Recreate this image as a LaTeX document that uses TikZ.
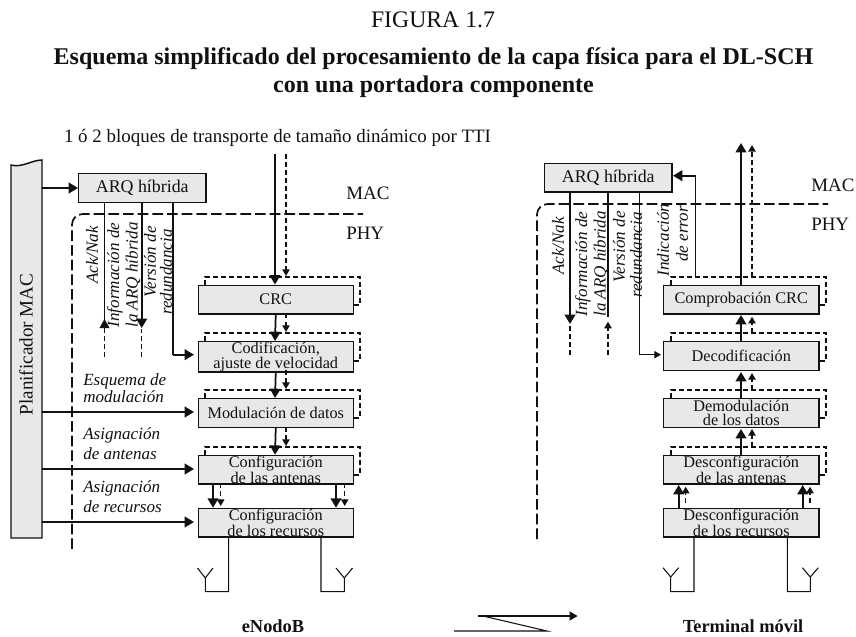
\documentclass[tikz,border=0pt]{standalone}
\usepackage{fontspec}
\setmainfont{Liberation Serif}
\usetikzlibrary{arrows.meta}
\definecolor{boxgray}{HTML}{E8E8E8}
\definecolor{ink}{HTML}{111111}
\tikzset{
  x=0.75pt,y=-0.75pt,
  every node/.style={inner sep=0pt,text=ink},
  blockbox/.style={draw=ink,fill=boxgray,line width=1.1pt,minimum width=116.3pt,minimum height=21.4pt,anchor=north west,align=center,font=\fontsize{12.2pt}{10pt}\selectfont},
  arqbox/.style={blockbox,minimum width=95.3pt,font=\fontsize{13.4pt}{14pt}\selectfont},
  backdash/.style={draw=ink,line width=1.1pt,dash pattern=on 4pt off 2pt},
  boundary/.style={draw=ink,line width=1.3pt,dash pattern=on 8pt off 3pt,rounded corners=8pt},
  thickline/.style={draw=ink,line width=1.3pt},
  thinline/.style={draw=ink,line width=0.8pt},
  dashline/.style={draw=ink,line width=1.1pt,dash pattern=on 3.5pt off 2.5pt},
  bigtip/.style={-{Triangle[length=7pt,width=8pt]}},
  smalltip/.style={-{Triangle[length=5pt,width=5.5pt]}},
  rotlabel/.style={rotate=90,font=\fontsize{12.8pt}{13pt}\itshape},
  sidelabel/.style={anchor=west,font=\fontsize{12.8pt}{13pt}\itshape},
  layerlabel/.style={anchor=west,font=\fontsize{14.2pt}{15pt}\selectfont},
  caplabel/.style={font=\fontsize{13.8pt}{15pt}\bfseries},
}
\begin{document}
\begin{tikzpicture}
\useasboundingbox (0,0) rectangle (856,636);
% titles
\node[font=\fontsize{17.8pt}{20pt}\selectfont] (fig) at (433,20) {FIGURA 1.7};
\node[font=\fontsize{18pt}{20pt}\bfseries] (t1) at (433.5,59) {Esquema simplificado del procesamiento de la capa física para el DL-SCH};
\node[font=\fontsize{18pt}{20pt}\bfseries] (t2) at (433.5,87) {con una portadora componente};
\node[font=\fontsize{14.2pt}{15pt}\selectfont] (top) at (277.5,138) {1 ó 2 bloques de transporte de tamaño dinámico por TTI};
% planner
\path[draw=ink,fill=boxgray,line width=1.1pt] (11,538) -- (11,165) .. controls (22,168) and (32,160) .. (42,160) -- (42,538) -- cycle;
\node[rotate=90,font=\fontsize{14.3pt}{15pt}\selectfont] (plan) at (26,344.5) {Planificador MAC};
% boundaries
\coordinate (lb1) at (72,549); \coordinate (lb2) at (72,214); \coordinate (lb3) at (363,214);
\draw[boundary] (lb1) -- (lb2) -- (lb3);
\coordinate (rb1) at (537,539); \coordinate (rb2) at (537,204); \coordinate (rb3) at (828,204);
\draw[boundary] (rb1) -- (rb2) -- (rb3);
\node[layerlabel] (mac1) at (346,193) {MAC};
\node[layerlabel] (phy1) at (346,233) {PHY};
\node[layerlabel] (mac2) at (811,185) {MAC};
\node[layerlabel] (phy2) at (811,224) {PHY};
% back dashes
\foreach \n/\yt/\yr in {1/277/305,2/333/361,3/390/418,4/447/475}{
  \draw[backdash] (205,\yt+8) -- (205,\yt) -- (360,\yt) -- (360,\yr) -- (352,\yr);
  \draw[backdash] (671,\yt+8) -- (671,\yt) -- (826,\yt) -- (826,\yr) -- (818,\yr);
}
% blocks left
\node[blockbox] (crc) at (197.5,284.5) {CRC};
\node[blockbox] (cod) at (197.5,341) {Codificación,\\ajuste de velocidad};
\node[blockbox] (mod) at (197.5,398) {Modulación de datos};
\node[blockbox] (ant) at (197.5,454.7) {Configuración\\de las antenas};
\node[blockbox] (rec) at (197.5,507.7) {Configuración\\de los recursos};
\node[arqbox] (arq) at (78,173) {ARQ híbrida};
% blocks right
\node[blockbox] (ccrc) at (663,284.5) {Comprobación CRC};
\node[blockbox] (dec) at (663,341) {Decodificación};
\node[blockbox] (dem) at (663,398) {Demodulación\\de los datos};
\node[blockbox] (dan) at (663,454.7) {Desconfiguración\\de las antenas};
\node[blockbox] (dre) at (663,507.7) {Desconfiguración\\de los recursos};
\node[arqbox] (arq2) at (544,162.7) {ARQ híbrida};
% top inputs left
\coordinate (in1) at (275,154); \coordinate (in2) at (286,154);
\draw[thickline,bigtip] (in1) -- (crc.north -| in1);
\draw[dashline,smalltip] (in2) -- (286,276);
% between blocks left
\draw[thickline,bigtip] (crc.south) -- (275,341);
\draw[dashline,smalltip] (286,313.5) -- (286,332);
\draw[thickline,bigtip] (cod.south) -- (275,398);
\draw[dashline,smalltip] (286,370) -- (286,389);
\draw[thickline,bigtip] (mod.south) -- (275,454.7);
\draw[dashline,smalltip] (286,427) -- (286,446);
\draw[thickline,bigtip] (213,483.4) -- (213,507.7);
\draw[dashline,smalltip] (220.7,483.4) -- (220.7,506);
\draw[thickline,bigtip] (336,483.4) -- (336,507.7);
\draw[dashline,smalltip] (344.7,483.4) -- (344.7,506);
% planner arrows
\draw[thickline,bigtip] (42,188) -- (arq.west |- 0,188);
\draw[thickline,bigtip] (42,412) -- (194,412);
\draw[thickline,bigtip] (42,469) -- (194,469);
\draw[thickline,bigtip] (42,522) -- (194,522);
% ARQ left
\coordinate (a1) at (104.5,357); \coordinate (a2) at (141.7,357);
\draw[thinline] (104.5,202) -- (104.5,322);
\draw[draw=none,fill=ink] (104.5,319) -- (99.5,328) -- (109.5,328) -- cycle;
\draw[dashline] (a1) -- (104.5,328);
\draw[thickline,bigtip] (141.7,202) -- (141.7,328);
\draw[dashline] (a2) -- (141.7,329);
\draw[thinline] (173,202) -- (173,354.7) -- (183,354.7);
\draw[thickline,bigtip] (173,354.7) -- (194,354.7);
% rotated labels left
\node[rotlabel] (l1) at (92,255) {Ack/Nak};
\node[rotlabel] (l2) at (115,275) {Información de};
\node[rotlabel] (l3) at (133,275) {la ARQ híbrida};
\node[rotlabel] (l4) at (150,262) {Versión de};
\node[rotlabel] (l5) at (166,272) {redundancia};
\node[sidelabel] (s1) at (83,381) {Esquema de};
\node[sidelabel] (s2) at (83,397) {modulación};
\node[sidelabel] (s3) at (83,435) {Asignación};
\node[sidelabel] (s4) at (83,454) {de antenas};
\node[sidelabel] (s5) at (83,488) {Asignación};
\node[sidelabel] (s6) at (83,507) {de recursos};
% antennas left
\draw[thinline] (228.7,536) -- (228.7,591.7) -- (205.3,591.7) -- (205.3,578) -- (197.5,568) (205.3,578) -- (213,568);
\draw[thinline] (321,536) -- (321,591.7) -- (344.3,591.7) -- (344.3,578) -- (336,568) (344.3,578) -- (352.5,568);
% right
\draw[thickline,bigtip] (570,191.3) -- (570,324);
\coordinate (b1) at (570,355); \coordinate (b2) at (608,355);
\draw[dashline] (b1) -- (570,325);
\draw[thinline] (608,191.3) -- (608,316.7);
\draw[dashline,smalltip] (b2) -- (608,321.7);
\draw[thinline] (639.3,191.3) -- (639.3,354.7) -- (652,354.7);
\draw[thinline,smalltip] (639.3,354.7) -- (661,354.7);
\draw[thinline] (695.3,277) -- (695.3,175.7) -- (680,175.7);
\draw[thickline,bigtip] (695.3,175.7) -- (673,175.7);
% top outputs right
\coordinate (o1) at (741,143); \coordinate (o2) at (752,145);
\draw[thickline,bigtip] (ccrc.north -| o1) -- (o1);
\draw[dashline,smalltip] (752,277) -- (o2);
\draw[thickline,bigtip] (741,341) -- (741,315);
\draw[dashline,smalltip] (752,333) -- (752,316.7);
\draw[thickline,bigtip] (741,398) -- (741,372);
\draw[dashline,smalltip] (752,390) -- (752,373);
\draw[thickline,bigtip] (741,454.7) -- (741,429);
\draw[dashline,smalltip] (752,447) -- (752,429);
\draw[thickline,bigtip] (678.7,507.7) -- (678.7,485);
\draw[dashline,smalltip] (685.7,503) -- (685.7,486.7);
\draw[thickline,bigtip] (802.7,507.7) -- (802.7,485);
\draw[dashline,smalltip] (810,503) -- (810,486.7);
% rotated labels right
\node[rotlabel] (r1) at (558,246) {Ack/Nak};
\node[rotlabel] (r2) at (583,264) {Información de};
\node[rotlabel] (r3) at (601,264) {la ARQ híbrida};
\node[rotlabel] (r4) at (619,247) {Versión de};
\node[rotlabel] (r5) at (636,255) {redundancia};
\node[rotlabel] (r6) at (663,240) {Indicación};
\node[rotlabel] (r7) at (682,234) {de error};
% antennas right
\draw[thinline] (694,536) -- (694,591.7) -- (670.7,591.7) -- (670.7,577) -- (663,567.7) (670.7,577) -- (678.7,567.7);
\draw[thinline] (787.3,536) -- (787.3,591.7) -- (810.3,591.7) -- (810.3,577) -- (802.3,567.7) (810.3,577) -- (818.3,567.7);
% captions
\node[caplabel] (enb) at (273,626) {eNodoB};
\node[caplabel] (term) at (743,626) {Terminal móvil};
% radio link
\coordinate (w1) at (478,616); \coordinate (w2) at (577.7,616); \coordinate (w3) at (483,616); \coordinate (w4) at (547,631); \coordinate (w5) at (454,631);
\draw[thickline,-{Triangle[length=6pt,width=6.5pt]}] (w1) -- (w2);
\draw[thinline] (w3) -- (w4) -- (w5);
\end{tikzpicture}
\end{document}
